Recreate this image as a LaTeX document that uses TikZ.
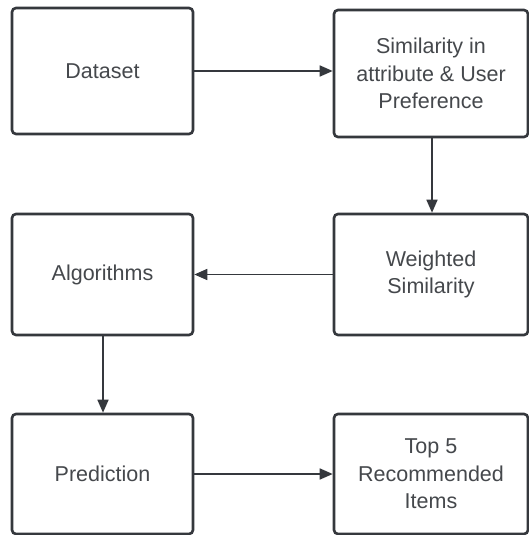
\documentclass[tikz,border=0pt]{standalone}
\usepackage{fontspec}
\setmainfont{Liberation Sans}
\usetikzlibrary{arrows.meta}
\definecolor{edge}{HTML}{35383D}
\definecolor{txt}{HTML}{45484C}
\begin{document}
\begin{tikzpicture}[x=1pt,y=-1pt,
  box/.style={draw=edge, line width=2.6pt, rounded corners=4pt, fill=white, text=txt,
    font=\fontsize{21.5}{27.5}\selectfont, align=center, inner sep=0pt},
  conn/.style={draw=edge, line width=1.6pt, -{Triangle[length=13pt,width=11pt]}}]
\useasboundingbox (0,0) rectangle (528,535);
\fill[white] (0,0) rectangle (528,535);
\node[box, minimum width=181pt, minimum height=126pt] (ds) at (102.5,71) {Dataset};
\node[box, minimum width=194pt, minimum height=127pt] (sim) at (431,73.5) {Similarity in\\attribute \& User\\Preference};
\node[box, minimum width=194pt, minimum height=121pt] (ws) at (431,274.5) {Weighted\\Similarity};
\node[box, minimum width=181pt, minimum height=121pt] (alg) at (102.5,274.5) {Algorithms};
\node[box, minimum width=181pt, minimum height=120pt] (pred) at (102.5,474) {Prediction};
\node[box, minimum width=194pt, minimum height=120pt] (top) at (431,474) {Top 5\\Recommended\\Items};
\draw[conn] (ds.east) -- (ds.east -| sim.west);
\draw[conn] (sim.south -| 432,0) -- (ws.north -| 432,0);
\draw[conn] (ws.west) -- (ws.west -| alg.east);
\draw[conn] (alg.south -| 103,0) -- (pred.north -| 103,0);
\draw[conn] (pred.east) -- (pred.east -| top.west);
\end{tikzpicture}
\end{document}
